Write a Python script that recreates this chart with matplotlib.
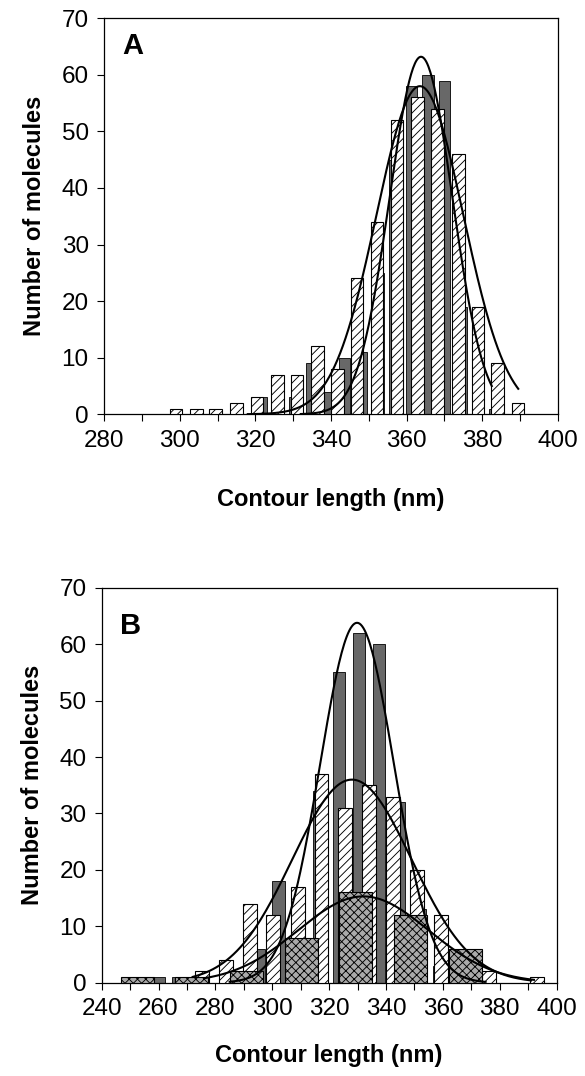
import matplotlib.pyplot as plt
import numpy as np
from matplotlib.ticker import MultipleLocator

plt.rcParams['font.family'] = ['Liberation Sans', 'DejaVu Sans']
plt.rcParams['hatch.linewidth'] = 0.65

# ---- panel A: contour length histograms ----
a_hatch_x = [299.0, 304.4, 309.5, 315.0, 320.4, 325.8, 331.0, 336.4, 341.7, 346.9,
             352.2, 357.5, 362.9, 368.2, 373.7, 378.8, 384.0, 389.4]
a_hatch_n = [1, 1, 1, 2, 3, 7, 7, 12, 8, 24, 34, 52, 56, 54, 46, 19, 9, 2]
a_dark_x = [321.6, 326.0, 330.4, 334.8, 339.2, 343.6, 348.0, 352.4, 356.8, 361.2,
            365.6, 370.0, 374.4, 378.8, 383.2]
a_dark_n = [3, 2, 3, 9, 4, 10, 11, 25, 45, 58, 60, 59, 19, 10, 1]

# gaussian fits in A (hatched, dark): height, centre, sd, drawn range
a_fit_peak = [58.0, 63.2]
a_fit_mean = [363.5, 363.8]
a_fit_sd = [11.5, 8.3]
a_fit_from = [318.0, 332.0]
a_fit_to = [389.5, 382.5]

# ---- panel B ----
b_hatch_x = [275.2, 283.6, 292.0, 300.4, 308.9, 317.3, 325.7, 334.1, 342.5, 350.9,
             359.4, 367.8, 376.2, 393.0]
b_hatch_n = [2, 4, 14, 12, 17, 37, 31, 35, 33, 20, 12, 5, 2, 1]
b_dark_x = [252.8, 259.9, 266.9, 274.0, 281.1, 288.1, 295.2, 302.2, 309.3, 316.4,
            323.4, 330.5, 337.5, 344.6, 351.7, 358.7]
b_dark_n = [1, 1, 1, 0, 0, 2, 6, 18, 7, 34, 55, 62, 60, 32, 13, 3]
b_cross_x = [252.5, 271.7, 291.0, 310.2, 329.4, 348.6, 367.9]
b_cross_n = [1, 1, 2, 8, 16, 12, 6]

# gaussian fits in B (hatched, dark, crosshatched)
b_fit_peak = [36.0, 63.8, 15.3]
b_fit_mean = [328.0, 329.8, 332.0]
b_fit_sd = [21.0, 13.0, 23.0]
b_fit_from = [272.0, 285.0, 276.0]
b_fit_to = [391.0, 375.0, 392.0]

DARK = '#686868'
CROSS = '#aaaaaa'


def draw_fits(ax, peak, mean, sd, x0, x1):
    for p, m, s, a, b in zip(peak, mean, sd, x0, x1):
        x = np.linspace(a, b, 200)
        ax.plot(x, p * np.exp(-(x - m) ** 2 / (2 * s ** 2)), color='black', lw=1.5, zorder=6)


def style(ax, xmin, xmax, letter, ly, xpad):
    ax.set_xlim(xmin, xmax)
    ax.set_ylim(0, 70)
    ax.xaxis.set_major_locator(MultipleLocator(20))
    ax.xaxis.set_minor_locator(MultipleLocator(10))
    ax.yaxis.set_major_locator(MultipleLocator(10))
    ax.tick_params(which='both', direction='out', length=5, width=0.8, labelsize=17.5, pad=6)
    for sp in ax.spines.values():
        sp.set_linewidth(0.9)
    ax.set_xlabel('Contour length (nm)', fontsize=17, fontweight='bold', labelpad=xpad)
    ax.set_ylabel('Number of molecules', fontsize=17, fontweight='bold', labelpad=11)
    ax.text(0.04, ly, letter, transform=ax.transAxes, fontsize=21, fontweight='bold',
            va='top', ha='left')


fig = plt.figure(figsize=(5.85, 10.76), dpi=100)

axA = fig.add_axes([0.1778, 0.615, 0.776, 0.368])
axA.bar(a_dark_x, a_dark_n, width=3.0, color=DARK, edgecolor='black', lw=0.6, zorder=2)
axA.bar(a_hatch_x, a_hatch_n, width=3.3, color='white', edgecolor='black', lw=0.8,
        hatch='////', zorder=3)
draw_fits(axA, a_fit_peak, a_fit_mean, a_fit_sd, a_fit_from, a_fit_to)
style(axA, 280, 400, 'A', 0.965, 26)

axB = fig.add_axes([0.1738, 0.0867, 0.7778, 0.367])
axB.bar(b_dark_x, b_dark_n, width=4.4, color=DARK, edgecolor='black', lw=0.6, zorder=2)
axB.bar(b_hatch_x, b_hatch_n, width=4.9, color='white', edgecolor='black', lw=0.8,
        hatch='////', zorder=3)
axB.bar(b_cross_x, b_cross_n, width=11.6, color=CROSS, edgecolor='black', lw=0.8,
        hatch='xxxx', zorder=4)
draw_fits(axB, b_fit_peak, b_fit_mean, b_fit_sd, b_fit_from, b_fit_to)
style(axB, 240, 400, 'B', 0.94, 17)

fig.savefig('out.png', dpi=100)
